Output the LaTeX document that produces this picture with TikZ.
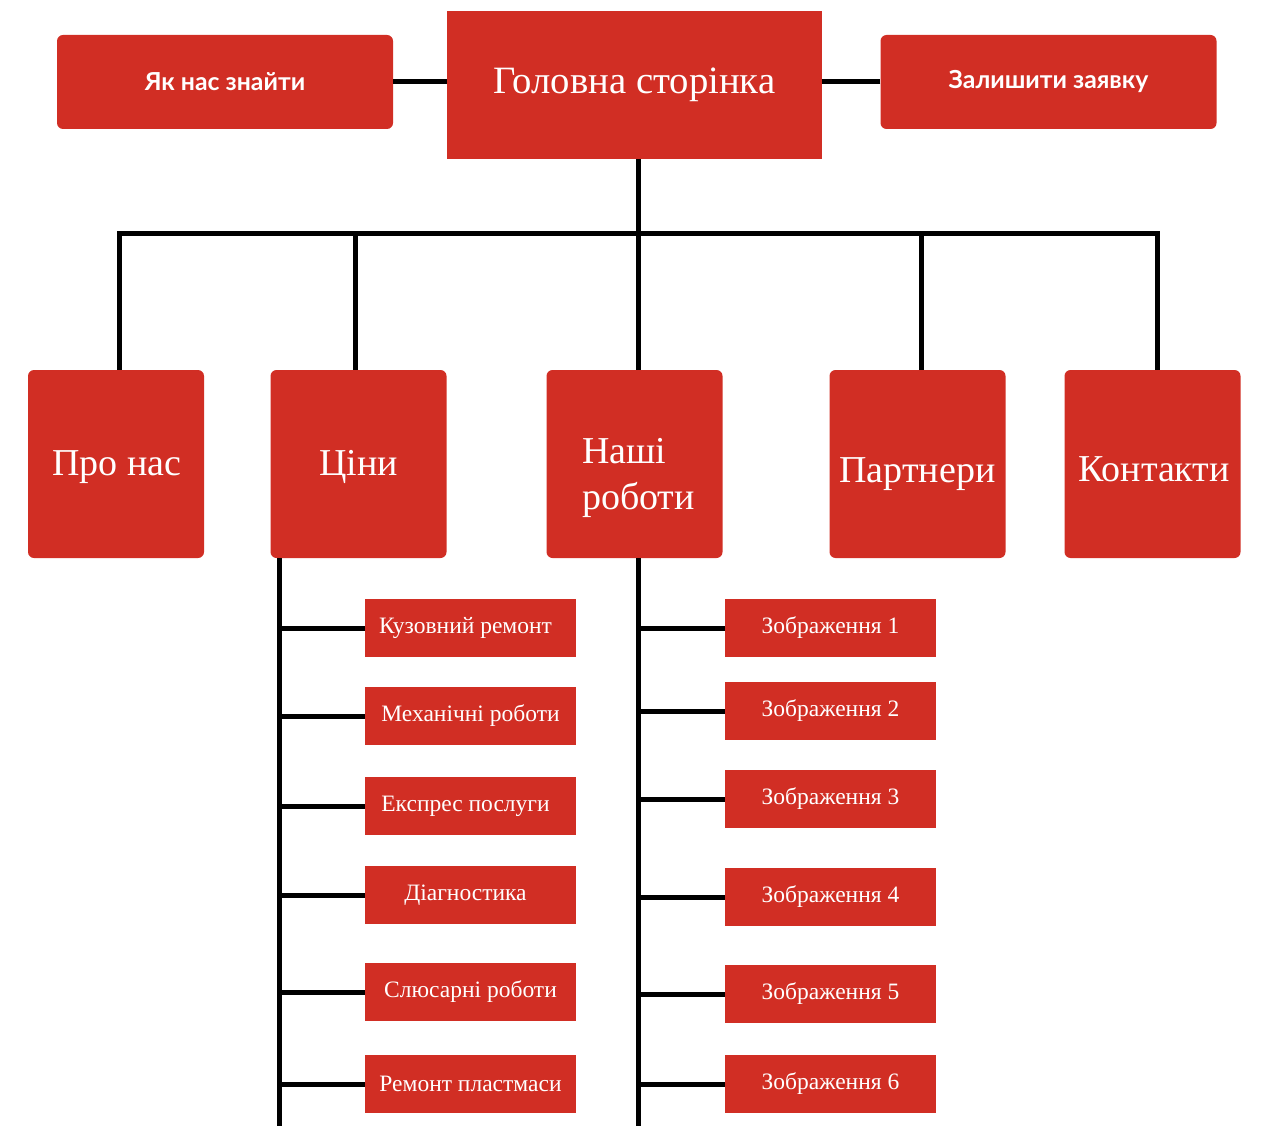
\documentclass[tikz,border=0pt]{standalone}
\usepackage{fontspec}
\setmainfont{Liberation Serif}
\newfontfamily\btnfont{Lato}
\usetikzlibrary{calc}
\definecolor{brick}{HTML}{D12E24}

\begin{document}
\begin{tikzpicture}[x=1pt, y=-1pt]

    \tikzstyle{box}=[fill=brick, text=white, inner sep=0pt];
    \tikzstyle{topbtn}=[box, rounded corners=6pt, minimum width=336pt, minimum height=94pt, font=\btnfont\bfseries\fontsize{24.8}{28}\selectfont];
    \tikzstyle{section}=[box, rounded corners=6pt, minimum width=176pt, minimum height=188pt, font=\fontsize{38}{46}\selectfont];
    \tikzstyle{caption}=[text=white, inner sep=0pt, font=\fontsize{38}{46}\selectfont];
    \tikzstyle{item}=[box, minimum width=211pt, minimum height=58pt, font=\fontsize{23.5}{28}\selectfont];
    \tikzstyle{wire}=[line width=5pt, black];

    \useasboundingbox (0,0) rectangle (1282,1126);

    % top row
    \node[box, minimum width=375pt, minimum height=148pt, font=\fontsize{38.7}{46}\selectfont] (home) at (634.5,85) {\raisebox{-3pt}{Головна сторінка}};
    \node[topbtn] (find) at (225,82) {Як нас знайти};
    \node[topbtn] (order) at (1048.5,82) {Залишити заявку};

    \draw[wire] (find.east) -- (find.east -| home.west);
    \draw[wire] (order.west) -- (order.west -| home.east);

    % sections
    \node[section] (about) at (116,464) {};
    \node[section] (prices) at (358.5,464) {};
    \node[section] (works) at (634.5,464) {};
    \node[section] (partners) at (917.5,464) {};
    \node[section] (contacts) at (1152.5,464) {};

    \node[caption] (abouttext) at (117,467) {Про нас};
    \node[caption] (pricestext) at (358.5,467) {Ціни};
    \node[caption, align=left] (workstext) at (638.5,478) {Наші\\роботи};
    \node[caption] (partnerstext) at (917.5,474) {Партнери};
    \node[caption] (contactstext) at (1154,469) {Контакти};

    \coordinate (b1) at (119,233);
    \coordinate (b2) at (355,233);
    \coordinate (b3) at (638,233);
    \coordinate (b4) at (921,233);
    \coordinate (b5) at (1157,233);

    \draw[wire] (home.south -| b3) -- (b3);
    \draw[wire, line cap=rect] (b1) -- (b5);
    \draw[wire] (b1) -- (b1 |- about.north);
    \draw[wire] (b2) -- (b2 |- prices.north);
    \draw[wire] (b3) -- (b3 |- works.north);
    \draw[wire] (b4) -- (b4 |- partners.north);
    \draw[wire] (b5) -- (b5 |- contacts.north);

    % prices list
    \node[item] (k1) at (470.5,628) {\hspace*{-10pt}Кузовний ремонт};
    \node[item] (k2) at (470.5,716) {Механічні роботи};
    \node[item] (k3) at (470.5,806) {\hspace*{-10pt}Експрес послуги};
    \node[item] (k4) at (470.5,895) {\hspace*{-10pt}Діагностика};
    \node[item] (k5) at (470.5,992) {Слюсарні роботи};
    \node[item] (k6) at (470.5,1084) {Ремонт пластмаси};

    \coordinate (ls) at (279,1126);
    \draw[wire] (prices.south -| ls) -- (ls);
    \foreach \i in {1,...,6}
        \draw[wire] (ls |- k\i) -- (k\i.west);

    % works list
    \node[item] (z1) at (830.5,628) {Зображення 1};
    \node[item] (z2) at (830.5,711) {Зображення 2};
    \node[item] (z3) at (830.5,799) {Зображення 3};
    \node[item] (z4) at (830.5,897) {Зображення 4};
    \node[item] (z5) at (830.5,994) {Зображення 5};
    \node[item] (z6) at (830.5,1084) {Зображення 6};

    \coordinate (rs) at (638,1126);
    \draw[wire] (works.south -| rs) -- (rs);
    \foreach \i in {1,...,6}
        \draw[wire] (rs |- z\i) -- (z\i.west);

\end{tikzpicture}
\end{document}
